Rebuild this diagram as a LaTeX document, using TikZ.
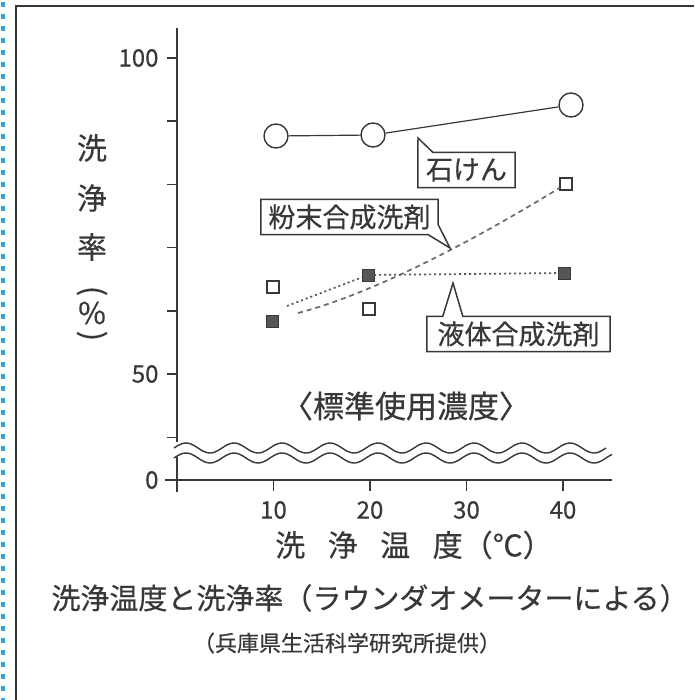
\documentclass[tikz,border=0pt]{standalone}
\usepackage{fontspec}
\setmainfont{Noto Sans CJK JP}[FakeBold=0.5]
\usepackage{tikz}

\definecolor{ink}{HTML}{383838}
\definecolor{binder}{HTML}{2FA4E0}

\tikzset{
	soapmark/.style = {circle, draw=ink, line width=1.4pt, fill=white, minimum size=24pt, inner sep=0pt},
	openmark/.style = {rectangle, draw=ink, line width=1.3pt, fill=white, minimum size=12pt, inner sep=0pt},
	fullmark/.style = {rectangle, draw=ink, fill=ink!85, minimum size=12pt, inner sep=0pt},
	callout/.style = {font=\fontsize{27}{27}\selectfont, minimum height=35pt, inner sep=0pt},
	calloutline/.style = {draw=ink, line width=1.5pt, line join=miter},
	powderline/.style = {draw=ink!75, line width=1.7pt, dash pattern=on 5pt off 4pt},
	liquidline/.style = {draw=ink!85, line width=1.7pt, dash pattern=on 2pt off 3pt},
	axisline/.style = {draw=ink, line width=1.4pt}
}

\begin{document}
\begin{tikzpicture}[x=1pt, y=-1pt, every node/.style={text=ink}]
\useasboundingbox (0,0) rectangle (694,700);
\fill[white] (0,0) rectangle (694,700);
\draw[binder, line width=3.5pt, dash pattern=on 5pt off 7pt] (3,2) -- (3,700);
\draw[ink, line width=2.5pt] (16,700) -- (16,6) -- (694,6);

	\begin{scope}[every node/.append style={font=\fontsize{24}{24}\selectfont}]
		\draw[axisline] (177,28) -- (177,442);
		\draw[axisline] (177,457) -- (177,492);
		\draw[axisline] (165,480) -- (612,480);
		\foreach \pct in {40,50,...,100}
			\draw[axisline] (167,{374-(\pct-50)*6.32}) -- (177,{374-(\pct-50)*6.32});
		\foreach \deg in {10,20,30,40} {
			\draw[axisline] ({177+\deg*9.65},480) -- ({177+\deg*9.65},491);
			\node at ({177+\deg*9.65},510) {\deg};
		}
		\node[anchor=east] (y100) at (162,58) {100};
		\node[anchor=east] (y50) at (162,374) {50};
		\node[anchor=east] (y0) at (162,480) {0};
	\end{scope}
\draw[axisline, domain=174:606, samples=200] plot (\x, {448-5*sin((\x-174)*7.5)});
\draw[axisline, domain=174:612, samples=200] plot (\x, {458-5*sin((\x-174)*7.5)});

	\begin{scope}[every node/.append style={font=\fontsize{30}{30}\selectfont}]
		\node (ylab1) at (92,148) {洗};
		\node (ylab2) at (92,198) {浄};
		\node (ylab3) at (92,247) {率};
		\node[rotate=-90] (ylab4) at (92,291) {(};
		\node (ylab5) at (92,313) {\%};
		\node[rotate=-90] (ylab6) at (92,336) {)};
		\node (xlab) at (414,545) {洗\hspace{0.75em}浄\hspace{0.75em}温\hspace{0.75em}度（℃）};
	\end{scope}

	\node[soapmark] (S10) at (276,136) {};
	\node[soapmark] (S20) at (373,135) {};
	\node[soapmark] (S40) at (571,105) {};
	\node[openmark] (P10) at (273,287) {};
	\node[openmark] (P20) at (369,309) {};
	\node[openmark] (P40) at (566,184) {};
	\node[fullmark] (L10) at (272,321) {};
	\node[fullmark] (L20) at (368,275) {};
	\node[fullmark] (L40) at (564,273) {};
	\coordinate (Pstart) at (298,313);
	\coordinate (Lstart) at (287,306);

\draw[draw=ink, line width=1.2pt] (S10) -- (S20) -- (S40);
\draw[powderline] (Pstart) .. controls (360,297) and (450,255) .. (P40);
\draw[liquidline] (Lstart) -- (L20) -- (L40);

	\node[callout, minimum width=97pt] (soap) at (466.5,170) {石けん};
	\node[callout, minimum width=177pt] (powder) at (349.5,217) {粉末合成洗剤};
	\node[callout, minimum width=183pt] (liquid) at (518.5,334) {液体合成洗剤};
	\coordinate (soaptip) at (418,138);
	\coordinate (powdertip) at (450,248);
	\coordinate (liquidtip) at (453,283);
\draw[calloutline] (soaptip) -- ([xshift=15pt]soap.north west) -- (soap.north east) -- (soap.south east) -- (soap.south west) -- cycle;
\draw[calloutline] (powder.south west) -- (powder.north west) -- (powder.north east) -- ([yshift=10pt]powder.south east) -- (powdertip) -- ([xshift=-10pt]powder.south east) -- cycle;
\draw[calloutline] (liquid.south west) -- (liquid.north west) -- ([xshift=16pt]liquid.north west) -- (liquidtip) -- ([xshift=36pt]liquid.north west) -- (liquid.north east) -- (liquid.south east) -- cycle;

\node[font=\fontsize{31}{31}\selectfont] (cond) at (406,406) {〈標準使用濃度〉};
\node[font=\fontsize{29}{29}\selectfont] (caption) at (370,598) {洗浄温度と洗浄率（ラウンダオメーターによる）};
\node[font=\fontsize{22}{22}\selectfont] (source) at (347,643) {（兵庫県生活科学研究所提供）};
\end{tikzpicture}
\end{document}
